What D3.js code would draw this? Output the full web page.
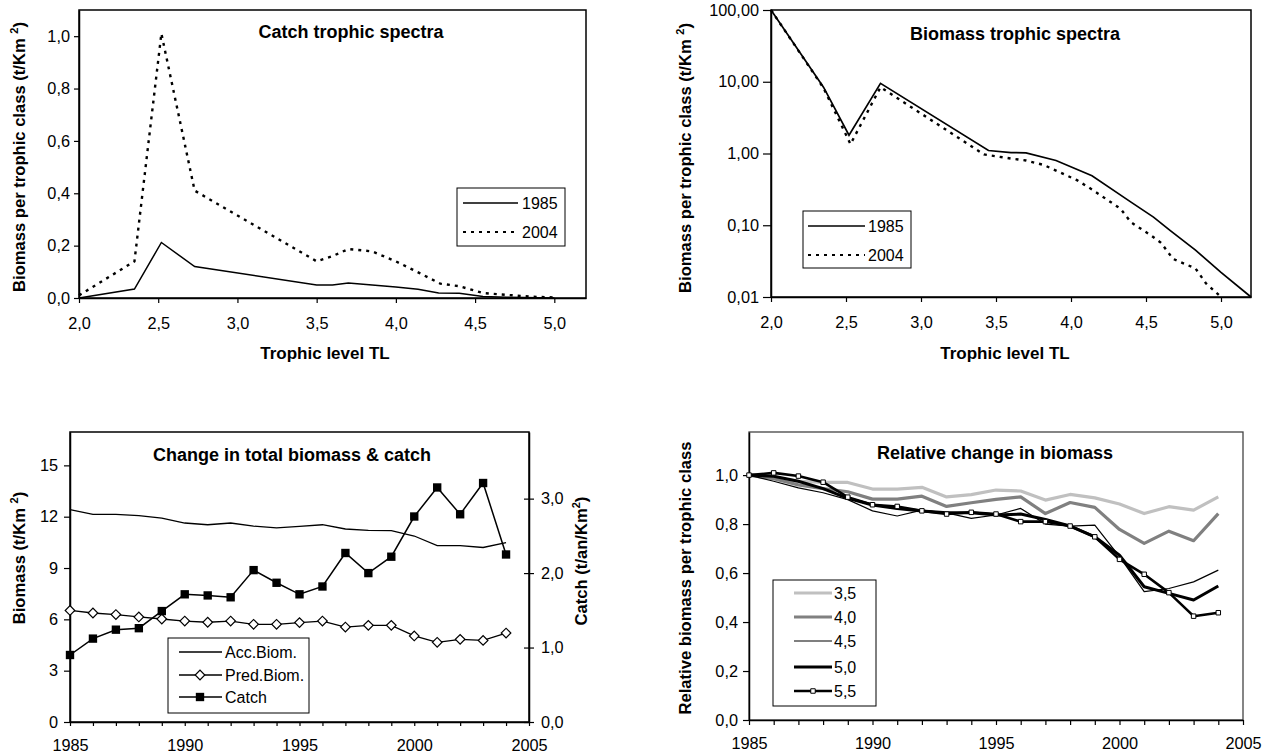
<!DOCTYPE html>
<html><head><meta charset="utf-8">
<script src="https://cdn.jsdelivr.net/npm/d3@7"></script>
<style>
body{margin:0;background:#fff;}
svg{display:block;font-family:"Liberation Sans",Arial,sans-serif;}
</style></head><body>
<svg id="c" width="1265" height="754"></svg>
<script>
// ---------- DATA ----------
// Panel 1: Catch trophic spectra
const catchTL1985 = [2.0, 2.35, 2.52, 2.73, 3.5, 3.6, 3.7, 4.0, 4.14, 4.27, 4.4, 4.55, 4.7, 5.0];
const catch1985   = [0, 0.034, 0.212, 0.12, 0.05, 0.05, 0.057, 0.042, 0.033, 0.019, 0.018, 0.006, 0.003, 0];
const catchTL2004 = [2.0, 2.35, 2.52, 2.73, 3.5, 3.6, 3.7, 3.85, 4.0, 4.15, 4.28, 4.4, 4.55, 4.7, 4.85, 5.0];
const catch2004   = [0.01, 0.14, 1.01, 0.41, 0.14, 0.16, 0.187, 0.178, 0.14, 0.095, 0.055, 0.045, 0.019, 0.012, 0.005, 0.002];
const tlTicks      = [2.0, 2.5, 3.0, 3.5, 4.0, 4.5, 5.0];
const tlTickLabels = ["2,0", "2,5", "3,0", "3,5", "4,0", "4,5", "5,0"];
const catchYTicks  = [0, 0.2, 0.4, 0.6, 0.8, 1.0];
const catchYLabels = ["0,0", "0,2", "0,4", "0,6", "0,8", "1,0"];
const spectraSeries = ["1985", "2004"];

// Panel 2: Biomass trophic spectra (log)
const bioTL1985 = [2.0, 2.35, 2.52, 2.73, 3.45, 3.6, 3.7, 3.9, 4.14, 4.4, 4.55, 4.66, 4.83, 5.0, 5.2];
const bio1985   = [100, 8.4, 1.8, 9.5, 1.1, 1.03, 1.02, 0.8, 0.49, 0.21, 0.13, 0.085, 0.045, 0.022, 0.01];
const bioTL2004 = [2.0, 2.35, 2.53, 2.73, 3.42, 3.6, 3.7, 3.82, 4.04, 4.14, 4.33, 4.4, 4.53, 4.6, 4.68, 4.83, 4.9, 5.0];
const bio2004   = [100, 8.2, 1.35, 8.4, 0.97, 0.85, 0.8, 0.69, 0.425, 0.315, 0.17, 0.11, 0.073, 0.057, 0.034, 0.025, 0.0155, 0.01];
const bioYTicks  = [0.01, 0.1, 1, 10, 100];
const bioYLabels = ["0,01", "0,10", "1,00", "10,00", "100,00"];

// Panel 3: Change in total biomass & catch
const years     = [1985,1986,1987,1988,1989,1990,1991,1992,1993,1994,1995,1996,1997,1998,1999,2000,2001,2002,2003,2004];
const accBiom   = [12.41,12.14,12.14,12.06,11.92,11.63,11.53,11.63,11.45,11.35,11.43,11.53,11.28,11.2,11.18,10.87,10.31,10.31,10.2,10.48];
const predBiom  = [6.52,6.37,6.28,6.14,6.02,5.9,5.83,5.9,5.71,5.71,5.81,5.9,5.55,5.65,5.65,5.03,4.66,4.83,4.77,5.2];
const catchTot  = [0.9,1.12,1.24,1.26,1.49,1.715,1.7,1.675,2.04,1.87,1.715,1.82,2.27,2.0,2.22,2.76,3.15,2.79,3.21,2.25];
const yearTickLabels = [1985, 1990, 1995, 2000, 2005];
const bioLeftTicks  = [0, 3, 6, 9, 12, 15];
const catchRightTicks  = [0, 1, 2, 3];
const catchRightLabels = ["0,0", "1,0", "2,0", "3,0"];
const totalSeries = ["Acc.Biom.", "Pred.Biom.", "Catch"];

// Panel 4: Relative change in biomass
const rel35 = [1.0,0.99,0.975,0.97,0.97,0.943,0.943,0.95,0.911,0.92,0.939,0.935,0.898,0.921,0.907,0.882,0.843,0.871,0.857,0.911];
const rel40 = [1.0,0.985,0.96,0.945,0.932,0.902,0.902,0.914,0.872,0.887,0.901,0.911,0.843,0.888,0.868,0.778,0.721,0.771,0.732,0.843];
const rel45 = [1.0,0.975,0.948,0.928,0.9,0.854,0.833,0.857,0.846,0.823,0.837,0.864,0.8,0.792,0.796,0.667,0.524,0.537,0.564,0.612];
const rel50 = [1.0,0.995,0.975,0.945,0.905,0.878,0.864,0.853,0.846,0.846,0.837,0.841,0.819,0.792,0.748,0.673,0.544,0.517,0.49,0.547];
const rel55 = [1.0,1.009,0.996,0.971,0.91,0.879,0.872,0.854,0.841,0.848,0.841,0.81,0.81,0.792,0.748,0.656,0.595,0.52,0.424,0.438];
const relSeriesNames = ["3,5", "4,0", "4,5", "5,0", "5,5"];
const relYTicks  = [0, 0.2, 0.4, 0.6, 0.8, 1.0];
const relYLabels = ["0,0", "0,2", "0,4", "0,6", "0,8", "1,0"];

// ---------- DRAW ----------
const svg = d3.select("#c");
const FONT = '"Liberation Sans", Arial, sans-serif';

function styleAxis(g, fs) {
  g.attr("font-family", FONT).attr("font-size", fs || 16.3);
  g.select(".domain").attr("stroke", "#000").attr("stroke-width", 1.5);
  g.selectAll(".tick line").attr("stroke", "#000").attr("stroke-width", 1.2);
  g.selectAll(".tick text").attr("fill", "#000");
}
function frame(p) {
  svg.append("rect").attr("x", p.l).attr("y", p.t).attr("width", p.r - p.l).attr("height", p.b - p.t)
    .attr("fill", "none").attr("stroke", "#000").attr("stroke-width", 1.5);
}
function title(x, y, s) {
  svg.append("text").attr("x", x).attr("y", y).attr("text-anchor", "middle")
    .attr("font-size", 18).attr("font-weight", "bold").text(s);
}
function ytitle(x, y, s, sup, tail) {
  const t = svg.append("text").attr("transform", `translate(${x},${y}) rotate(-90)`)
    .attr("text-anchor", "middle").attr("font-size", 16.6).attr("font-weight", "bold");
  t.append("tspan").text(s);
  if (sup) {
    t.append("tspan").attr("font-size", 11).attr("dy", -7).text(sup);
    t.append("tspan").attr("dy", 7).text(tail);
  }
}
function legendBox(x, y, w, h) {
  svg.append("rect").attr("x", x).attr("y", y).attr("width", w).attr("height", h)
    .attr("fill", "#fff").attr("stroke", "#000").attr("stroke-width", 1);
}
function legText(x, y, s) {
  svg.append("text").attr("x", x).attr("y", y).attr("dy", "0.35em").attr("font-size", 16).text(s);
}

// ===== Panel 1 =====
const p1 = {l: 79, t: 10, r: 586, b: 298};
const x1 = d3.scaleLinear().domain([2, 5.2]).range([p1.l, p1.r]);
const y1 = d3.scaleLinear().domain([0, 1.1]).range([p1.b, p1.t]);
frame(p1);
svg.append("g").attr("transform", `translate(0,${p1.b})`)
  .call(d3.axisBottom(x1).tickValues(tlTicks).tickFormat((d, i) => tlTickLabels[i]).tickSizeInner(5).tickSizeOuter(0).tickPadding(14))
  .call(styleAxis);
svg.append("g").attr("transform", `translate(${p1.l},0)`)
  .call(d3.axisLeft(y1).tickValues(catchYTicks).tickFormat((d, i) => catchYLabels[i]).tickSizeInner(5).tickSizeOuter(0).tickPadding(4))
  .call(styleAxis);
const line1a = d3.line().x(d => x1(d[0])).y(d => y1(d[1]));
svg.append("path").attr("d", line1a(d3.zip(catchTL1985, catch1985))).attr("fill", "none").attr("stroke", "#000").attr("stroke-width", 1.5);
svg.append("path").attr("d", line1a(d3.zip(catchTL2004, catch2004))).attr("fill", "none").attr("stroke", "#000").attr("stroke-width", 2.4).attr("stroke-dasharray", "3,5");
title(351, 38, "Catch trophic spectra");
svg.append("text").attr("x", 325).attr("y", 359).attr("text-anchor", "middle").attr("font-size", 17).attr("font-weight", "bold").text("Trophic level TL");
ytitle(25, 157, "Biomass per trophic class (t/Km  ", "2", ")");
legendBox(457, 188, 108, 58);
svg.append("line").attr("x1", 463).attr("x2", 518).attr("y1", 203).attr("y2", 203).attr("stroke", "#000").attr("stroke-width", 1.5);
svg.append("line").attr("x1", 463).attr("x2", 518).attr("y1", 232).attr("y2", 232).attr("stroke", "#000").attr("stroke-width", 2.2).attr("stroke-dasharray", "3,5");
legText(522, 203, spectraSeries[0]);
legText(522, 232, spectraSeries[1]);

// ===== Panel 2 =====
const p2 = {l: 771, t: 10, r: 1251, b: 297};
const x2 = d3.scaleLinear().domain([2, 5.2]).range([p2.l, p2.r]);
const y2 = d3.scaleLog().domain([0.01, 100]).range([p2.b, p2.t]);
frame(p2);
svg.append("g").attr("transform", `translate(0,${p2.b})`)
  .call(d3.axisBottom(x2).tickValues(tlTicks).tickFormat((d, i) => tlTickLabels[i]).tickSizeInner(5).tickSizeOuter(0).tickPadding(14))
  .call(styleAxis);
svg.append("g").attr("transform", `translate(${p2.l},0)`)
  .call(d3.axisLeft(y2).tickValues(bioYTicks).tickFormat((d, i) => bioYLabels[i]).tickSizeInner(8).tickSizeOuter(0).tickPadding(4))
  .call(styleAxis);
const line2 = d3.line().x(d => x2(d[0])).y(d => y2(d[1]));
svg.append("path").attr("d", line2(d3.zip(bioTL1985, bio1985))).attr("fill", "none").attr("stroke", "#000").attr("stroke-width", 1.7);
svg.append("path").attr("d", line2(d3.zip(bioTL2004, bio2004))).attr("fill", "none").attr("stroke", "#000").attr("stroke-width", 2.4).attr("stroke-dasharray", "3,5");
title(1015, 40, "Biomass trophic spectra");
svg.append("text").attr("x", 1005).attr("y", 359).attr("text-anchor", "middle").attr("font-size", 17).attr("font-weight", "bold").text("Trophic level TL");
ytitle(691, 158, "Biomass per trophic class (t/Km  ", "2", ")");
legendBox(803, 211, 108, 57);
svg.append("line").attr("x1", 808).attr("x2", 865).attr("y1", 226).attr("y2", 226).attr("stroke", "#000").attr("stroke-width", 1.5);
svg.append("line").attr("x1", 808).attr("x2", 865).attr("y1", 255).attr("y2", 255).attr("stroke", "#000").attr("stroke-width", 2.2).attr("stroke-dasharray", "3,5");
legText(868, 226, spectraSeries[0]);
legText(868, 255, spectraSeries[1]);

// ===== Panel 3 =====
const p3 = {l: 70, t: 432, r: 529, b: 722};
const x3 = d3.scaleLinear().domain([1985, 2005]).range([p3.l, p3.r]);
const y3 = d3.scaleLinear().domain([0, 16.95]).range([p3.b, p3.t]);
const y3r = d3.scaleLinear().domain([0, 3.895]).range([p3.b, p3.t]);
frame(p3);
const allYears3 = d3.range(1985, 2006);
svg.append("g").attr("transform", `translate(0,${p3.b})`)
  .call(d3.axisBottom(x3).tickValues(allYears3).tickFormat(d => yearTickLabels.includes(d) ? String(d) : "").tickSizeInner(4).tickSizeOuter(0).tickPadding(13))
  .call(styleAxis);
svg.append("g").attr("transform", `translate(${p3.l},0)`)
  .call(d3.axisLeft(y3).tickValues(bioLeftTicks).tickSizeInner(6).tickSizeOuter(0).tickPadding(6))
  .call(styleAxis);
const gR = svg.append("g").attr("transform", `translate(${p3.r},0)`)
  .call(d3.axisRight(y3r).tickValues(catchRightTicks).tickFormat((d, i) => catchRightLabels[i]).tickSizeInner(5).tickSizeOuter(0).tickPadding(7))
  .call(styleAxis);
gR.selectAll(".tick line").attr("x1", -5);
const l3a = d3.line().x((d, i) => x3(years[i])).y(d => y3(d));
const l3r = d3.line().x((d, i) => x3(years[i])).y(d => y3r(d));
svg.append("path").attr("d", l3a(accBiom)).attr("fill", "none").attr("stroke", "#000").attr("stroke-width", 1.3);
svg.append("path").attr("d", l3a(predBiom)).attr("fill", "none").attr("stroke", "#000").attr("stroke-width", 1.3);
svg.append("path").attr("d", l3r(catchTot)).attr("fill", "none").attr("stroke", "#000").attr("stroke-width", 1.5);
const diamond = d3.symbol(d3.symbolSquare, 46)();
const square = d3.symbol(d3.symbolSquare, 70)();
svg.append("g").selectAll("path").data(predBiom).join("path")
  .attr("d", diamond).attr("transform", (d, i) => `translate(${x3(years[i])},${y3(d)}) rotate(45)`)
  .attr("fill", "#fff").attr("stroke", "#000").attr("stroke-width", 1.2);
svg.append("g").selectAll("path").data(catchTot).join("path")
  .attr("d", square).attr("transform", (d, i) => `translate(${x3(years[i])},${y3r(d)})`)
  .attr("fill", "#000");
title(292, 461, "Change in total biomass & catch");
ytitle(25, 558, "Biomass (t/Km ", "2", ")");
ytitle(587, 561, "Catch (t/an/Km", "2", ")");
legendBox(168, 638, 141, 75);
const lg3y = [652, 675, 697];
lg3y.forEach(yy => svg.append("line").attr("x1", 179).attr("x2", 222).attr("y1", yy).attr("y2", yy).attr("stroke", "#000").attr("stroke-width", 1.3));
svg.append("path").attr("d", diamond).attr("transform", `translate(200,${lg3y[1]}) rotate(45)`).attr("fill", "#fff").attr("stroke", "#000").attr("stroke-width", 1.2);
svg.append("path").attr("d", square).attr("transform", `translate(200,${lg3y[2]})`).attr("fill", "#000");
totalSeries.forEach((s, i) => legText(225, lg3y[i], s));

// ===== Panel 4 =====
const p4 = {l: 749, t: 432, r: 1243, b: 720};
const x4 = d3.scaleLinear().domain([1985, 2005]).range([p4.l, p4.r]);
const y4 = d3.scaleLinear().domain([0, 1.176]).range([p4.b, p4.t]);
svg.append("rect").attr("x", p4.l).attr("y", p4.t).attr("width", p4.r - p4.l).attr("height", p4.b - p4.t)
  .attr("fill", "none").attr("stroke", "#444").attr("stroke-width", 1.3);
svg.append("g").attr("transform", `translate(0,${p4.b})`)
  .call(d3.axisBottom(x4).tickValues(allYears3).tickFormat(d => yearTickLabels.includes(d) ? String(d) : "").tickSizeInner(5).tickSizeOuter(0).tickPadding(12))
  .call(styleAxis);
svg.append("g").attr("transform", `translate(${p4.l},0)`)
  .call(d3.axisLeft(y4).tickValues(relYTicks).tickFormat((d, i) => relYLabels[i]).tickSizeInner(6).tickSizeOuter(0).tickPadding(5))
  .call(styleAxis);
const l4 = d3.line().x((d, i) => x4(years[i])).y(d => y4(d));
const relStyles = [
  {data: rel35, color: "#c0c0c0", w: 3.2},
  {data: rel40, color: "#808080", w: 3.2},
  {data: rel45, color: "#000", w: 1.2},
  {data: rel50, color: "#000", w: 3},
  {data: rel55, color: "#000", w: 2.6}
];
relStyles.forEach(s => svg.append("path").attr("d", l4(s.data)).attr("fill", "none").attr("stroke", s.color).attr("stroke-width", s.w).attr("stroke-linejoin", "round"));
const smallSq = d3.symbol(d3.symbolSquare, 20)();
svg.append("g").selectAll("path").data(rel55).join("path")
  .attr("d", smallSq).attr("transform", (d, i) => `translate(${x4(years[i])},${y4(d)})`)
  .attr("fill", "#fff").attr("stroke", "#000").attr("stroke-width", 1);
title(995, 459, "Relative change in biomass");
ytitle(691, 578, "Relative biomass per trophic class");
legendBox(773, 580, 103, 126);
const lg4y = [593, 617, 641, 667, 691];
relStyles.forEach((s, i) => {
  svg.append("line").attr("x1", 794).attr("x2", 832).attr("y1", lg4y[i]).attr("y2", lg4y[i]).attr("stroke", s.color).attr("stroke-width", s.w);
  legText(834, lg4y[i], relSeriesNames[i]);
});
svg.append("path").attr("d", smallSq).attr("transform", `translate(813,${lg4y[4]})`).attr("fill", "#fff").attr("stroke", "#000").attr("stroke-width", 1);
</script>
</body></html>
